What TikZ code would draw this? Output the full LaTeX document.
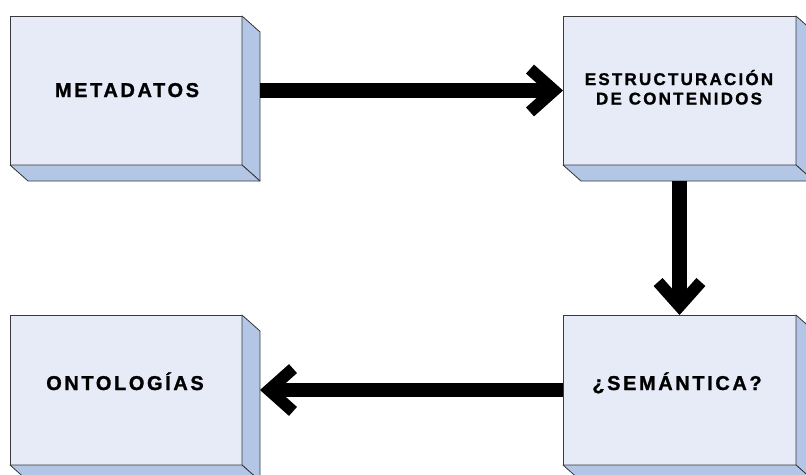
\documentclass[tikz,border=0pt]{standalone}
\usepackage{fontspec}
\setmainfont{Liberation Sans}
\usetikzlibrary{calc}
\definecolor{faceC}{HTML}{E6EBF7}
\definecolor{sideC}{HTML}{B3C6E6}
\definecolor{edgeC}{HTML}{3A3A3A}
\newfontfamily\lblfont[LetterSpace=13,FakeBold=1.2]{Liberation Sans Bold}
\tikzset{
  face/.style={rectangle, fill=faceC, draw=edgeC, line width=0.8pt, outer sep=0pt, inner sep=0pt},
  sideface/.style={fill=sideC, draw=edgeC, line width=0.8pt, line join=round},
  lbl/.style={font=\lblfont\fontsize{20}{22}\selectfont, inner sep=0pt, align=center},
  lblsmall/.style={font=\lblfont\fontsize{17}{19}\selectfont, inner sep=0pt, align=center},
  shaft/.style={line width=14.5pt, line cap=butt},
  barb/.style={line width=12pt, line join=miter, line cap=butt},
}
\begin{document}
\begin{tikzpicture}[x=1pt,y=-1pt]
\useasboundingbox (0,0) rectangle (806,474);
\clip (0,0) rectangle (806,474);
% front faces
\node[face, minimum width=232pt, minimum height=149pt] (meta) at (126,90.5) {};
\node[face, minimum width=233pt, minimum height=149pt] (estr) at (679.5,90.5) {};
\node[face, minimum width=233pt, minimum height=150pt] (sem) at (679.5,390) {};
\node[face, minimum width=232pt, minimum height=150pt] (onto) at (126,390) {};
% 3D depth faces
\foreach \n in {meta,estr,sem,onto}{
  \filldraw[sideface] (\n.north east) -- ++(18,16) -- ($(\n.south east)+(18,16)$) -- (\n.south east) -- cycle;
  \filldraw[sideface] (\n.south west) -- (\n.south east) -- ++(18,16) -- ($(\n.south west)+(18,16)$) -- cycle;
}
% labels
\node[lbl, anchor=base] (metaT) at (127,97) {METADATOS};
\node[lblsmall, anchor=base] (estrT1) at (679,85) {ESTRUCTURACIÓN};
\node[lblsmall, anchor=base] (estrT2) at (679,104.5) {DE CONTENIDOS};
\node[lbl, anchor=base] (semT) at (677,390) {¿SEMÁNTICA?};
\node[lbl, anchor=base] (ontoT) at (125,390) {ONTOLOGÍAS};
% connectors
\coordinate (a1s) at ([xshift=18pt]meta.east);
\draw[shaft] (a1s) -- ($(estr.west)+(-14,0)$);
\draw[barb, shift={(estr.west)}] (-33,-21.4) -- (-9,0) -- (-33,21.4);
\coordinate (a2s) at ([yshift=-16pt]estr.south);
\draw[shaft] (a2s) -- ($(sem.north)+(0,-14)$);
\draw[barb, shift={(sem.north)}, rotate=-90] (-33,-21.4) -- (-9,0) -- (-33,21.4);
\coordinate (a3e) at ([xshift=18pt]onto.east);
\draw[shaft] (sem.west) -- ($(a3e)+(14,0)$);
\draw[barb, shift={(a3e)}, rotate=180] (-33,-21.4) -- (-9,0) -- (-33,21.4);
\end{tikzpicture}
\end{document}
